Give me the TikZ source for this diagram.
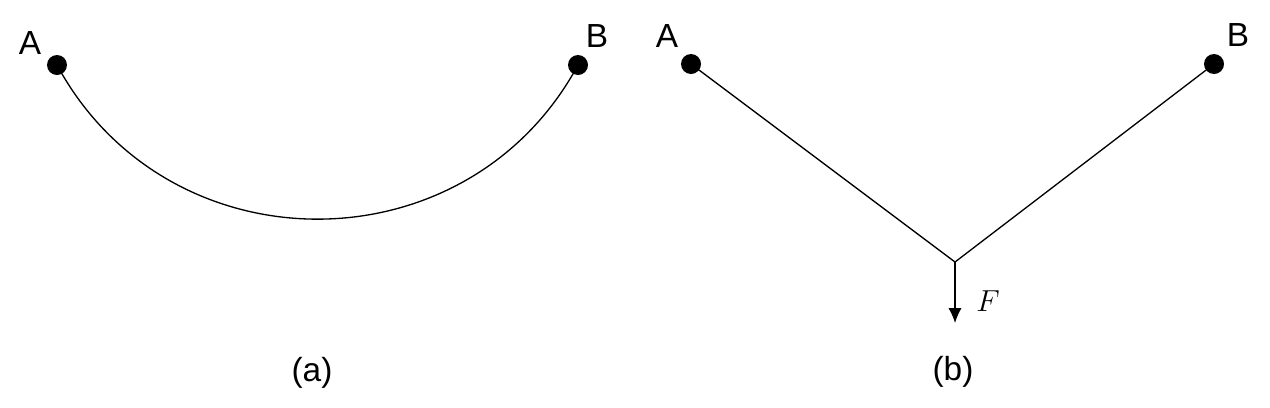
\documentclass[tikz,border=0pt]{standalone}
\usepackage{fontspec}
\setmainfont{Liberation Sans}
\usetikzlibrary{arrows.meta}
\tikzset{
  >={Latex[length=8.5pt,width=7.5pt]},
}
\tikzstyle{dot}=[circle,fill=black,inner sep=0pt,minimum size=0.4cm]
\tikzstyle{rope}=[line width=0.75pt]
\tikzstyle{every node}=[font=\fontsize{19}{22}\selectfont]

\begin{document}
\begin{tikzpicture}[x=0.02cm,y=-0.02cm]
    \useasboundingbox (0,0) rectangle (1270,407);
    % (a) hanging curve
    \node[dot] (a1) at (57,65) {};
    \node[dot] (b1) at (578,65) {};
    \node (la1) at (30,43) {A};
    \node (lb1) at (597,36) {B};
    \draw[rope] (a1.center) to[out=-61.6,in=-118.4,looseness=1.15] (b1.center);
    \node (capa) at (312,373) {(a)};
    % (b) rope with load
    \node[dot] (a2) at (691,64) {};
    \node[dot] (b2) at (1214,64) {};
    \node (la2) at (667,36) {A};
    \node (lb2) at (1238,35) {B};
    \coordinate (k) at (955,262);
    \coordinate (tip) at (955,323);
    \draw[rope] (a2.center) -- (k) -- (b2.center);
    \draw[rope,->] (k) -- (tip);
    \node (f) at (988,301) {$F$};
    \node (capb) at (953,372) {(b)};
\end{tikzpicture}
\end{document}
